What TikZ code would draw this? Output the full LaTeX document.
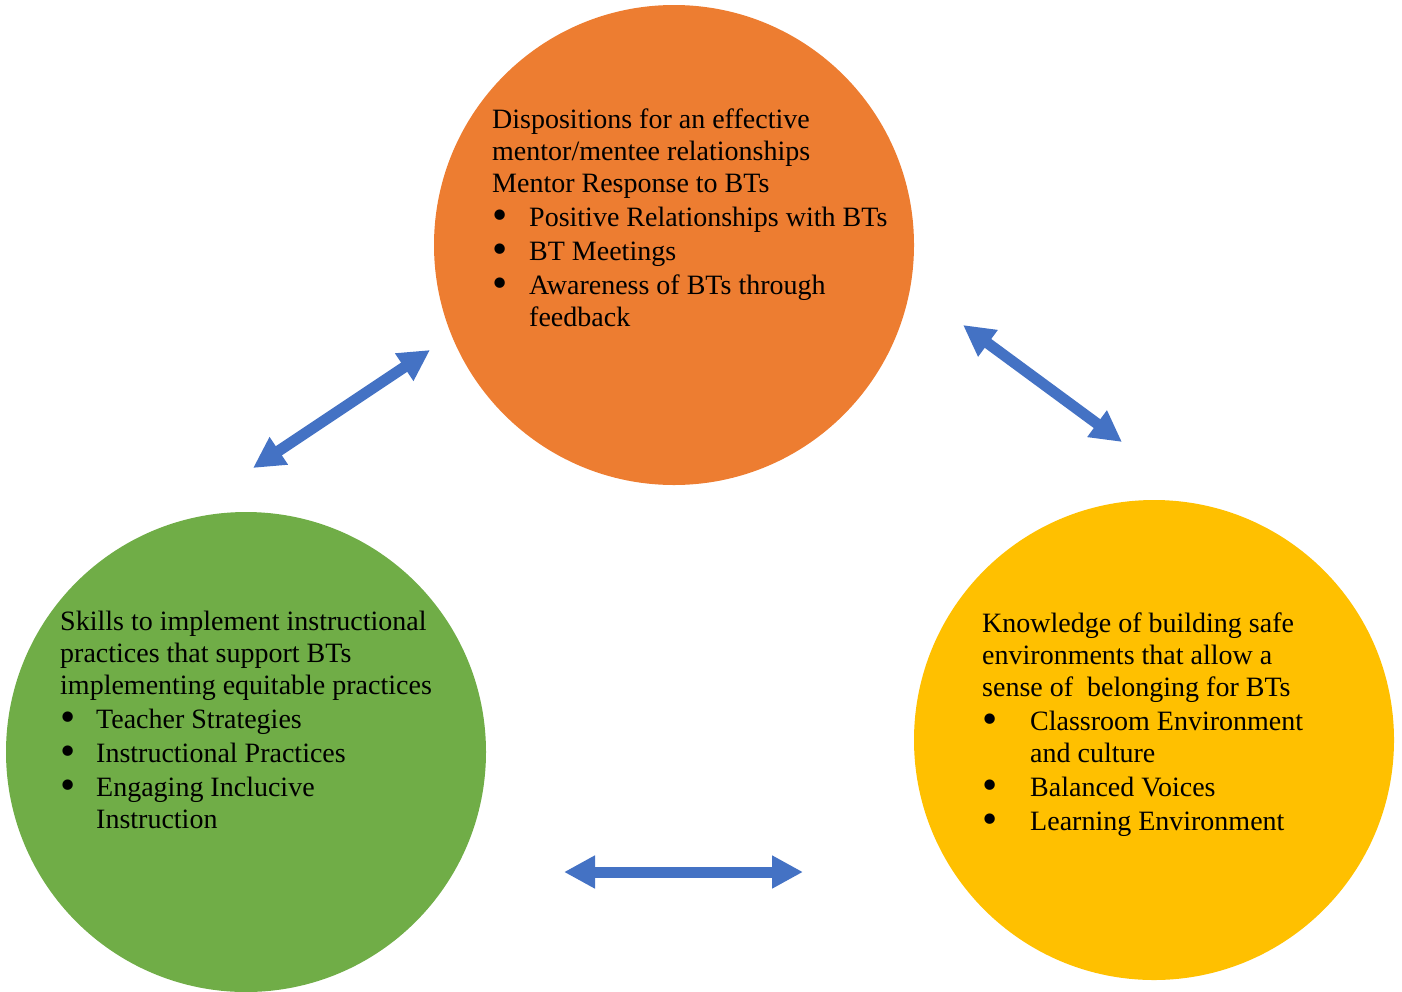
\documentclass[tikz,border=0pt]{standalone}
\usepackage{fontspec}
\setmainfont{Liberation Serif}
\usetikzlibrary{arrows.meta}

\definecolor{discOrange}{HTML}{ED7D31}
\definecolor{discGreen}{HTML}{70AD47}
\definecolor{discGold}{HTML}{FFC000}
\definecolor{linkBlue}{HTML}{4472C4}

% bullet set in a box of the given width, followed by the item text
\newcommand{\bul}[1]{\makebox[#1][l]{\raisebox{-0.12em}{\scalebox{1.55}{\textbullet}}}}

\begin{document}
\begin{tikzpicture}[x=1pt,y=-1pt,
  disc/.style={circle, minimum size=480pt, inner sep=0pt, draw=none},
  body/.style={anchor=base west, inner sep=0pt, font=\fontsize{28}{32}\selectfont},
  link/.style={draw=linkBlue, line width=11pt,
    {Triangle[length=31pt,width=31pt]}-{Triangle[length=31pt,width=31pt]}}]

\useasboundingbox (0,0) rectangle (1402,991);
\clip (0,0) rectangle (1402,991);

% the three discs
\node[disc, fill=discOrange] (top)   at (674,245) {};
\node[disc, fill=discGreen]  (left)  at (246,752) {};
\node[disc, fill=discGold]   (right) at (1154,740) {};

% texts inside the discs
\node[body] (topText) at (492,128) {\parbox[t]{420pt}{%
Dispositions for an effective\\
mentor/mentee relationships\\
Mentor Response to BTs\\[2pt]
\bul{37pt}Positive Relationships with BTs\\[2pt]
\bul{37pt}BT Meetings\\[2pt]
\bul{37pt}Awareness of BTs through\\
\hspace*{37pt}feedback}};

\node[body] (leftText) at (60,630) {\parbox[t]{420pt}{%
Skills to implement instructional\\
practices that support BTs\\
implementing equitable practices\\[2pt]
\bul{36pt}Teacher Strategies\\[2pt]
\bul{36pt}Instructional Practices\\[2pt]
\bul{36pt}Engaging Inclucive\\
\hspace*{36pt}Instruction}};

\node[body] (rightText) at (982,632) {\parbox[t]{420pt}{%
Knowledge of building safe\\
environments that allow a\\
sense of\ \ belonging for BTs\\[2pt]
\bul{48pt}Classroom Environment\\
\hspace*{48pt}and culture\\[2pt]
\bul{48pt}Balanced Voices\\[2pt]
\bul{48pt}Learning Environment}};

% two-way links between the discs
\coordinate (tlA) at (253,468);
\coordinate (tlB) at (430,350);
\coordinate (trA) at (963,325);
\coordinate (trB) at (1122,442);
\coordinate (btA) at (564,872);
\coordinate (btB) at (803,872);

\draw[link] (tlA) -- (tlB);
\draw[link] (trA) -- (trB);
\draw[link] (btA) -- (btB);
\end{tikzpicture}
\end{document}
